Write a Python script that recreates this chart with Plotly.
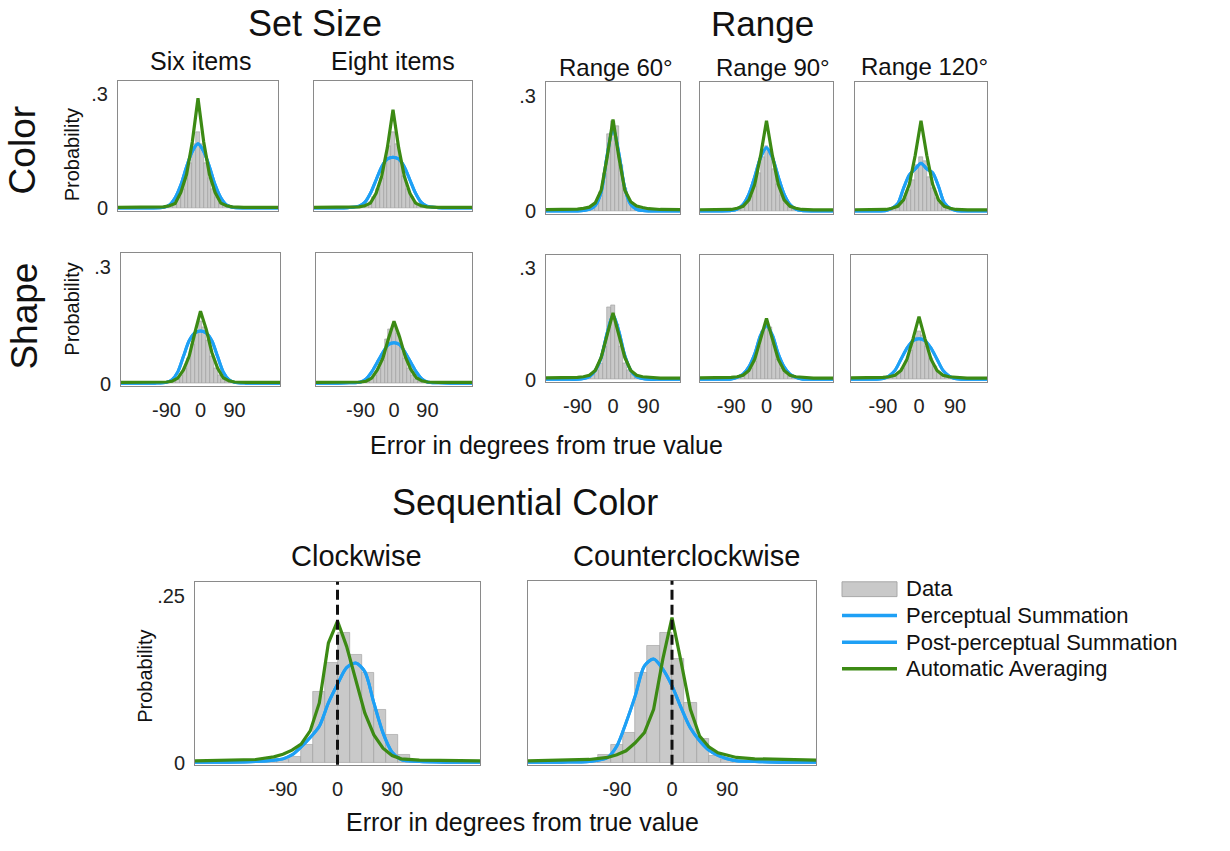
import plotly.graph_objects as go

W, H = 1230, 851
FONT = "Liberation Sans, Arial, sans-serif"
BLUE = "#1EA0F5"
GREEN = "#3C8A14"
BAR_FILL = "#C9C9C9"
BAR_LINE = "#9C9C9C"

# ---------------- shared x grids ----------------
X_TOP = [-210, -150, -120, -90, -75, -60, -45, -30, -15, 0, 15, 30, 45, 60, 75, 90, 120, 150, 210]
HIST_X_TOP = [-90, -80, -70, -60, -50, -40, -30, -20, -10, 0, 10, 20, 30, 40, 50, 60, 70, 80, 90]
X_BOT = [-235, -180, -135, -105, -90, -75, -60, -45, -30, -15, 0, 15, 30, 45, 60, 75, 90, 105, 135, 180, 235]
HIST_X_BOT = [-130, -110, -90, -70, -50, -30, -10, 10, 30, 50, 70, 90, 110, 130]
X_TICKS = [-90, 0, 90]
X_TICKTEXT = ["-90", "0", "90"]

# ---------------- Color row ----------------
COLOR_SIX_HIST = [0.002, 0.004, 0.008, 0.015, 0.03, 0.05, 0.08, 0.12, 0.17, 0.20, 0.17, 0.12, 0.08, 0.05, 0.03, 0.015, 0.008, 0.004, 0.002]
COLOR_SIX_PERC = [0.001, 0.001, 0.001, 0.003, 0.009, 0.028, 0.062, 0.11, 0.15, 0.17, 0.15, 0.11, 0.062, 0.028, 0.009, 0.003, 0.001, 0.001, 0.001]
COLOR_SIX_AVG = [0.003, 0.003, 0.003, 0.004, 0.007, 0.013, 0.042, 0.09, 0.175, 0.29, 0.175, 0.09, 0.042, 0.014, 0.007, 0.004, 0.003, 0.003, 0.003]

COLOR_EIGHT_HIST = [0.003, 0.005, 0.009, 0.016, 0.03, 0.05, 0.08, 0.12, 0.165, 0.20, 0.17, 0.125, 0.085, 0.05, 0.03, 0.016, 0.009, 0.005, 0.003]
COLOR_EIGHT_PERC = [0.001, 0.001, 0.002, 0.006, 0.016, 0.04, 0.075, 0.11, 0.13, 0.135, 0.13, 0.11, 0.075, 0.04, 0.016, 0.006, 0.002, 0.001, 0.001]
COLOR_EIGHT_AVG = [0.003, 0.003, 0.003, 0.004, 0.007, 0.014, 0.04, 0.085, 0.16, 0.26, 0.16, 0.085, 0.04, 0.014, 0.007, 0.004, 0.003, 0.003, 0.003]

COLOR_R60_HIST = [0.002, 0.003, 0.005, 0.008, 0.013, 0.025, 0.05, 0.10, 0.20, 0.235, 0.22, 0.12, 0.06, 0.03, 0.015, 0.008, 0.005, 0.003, 0.002]
COLOR_R60_PERC = [0.001, 0.001, 0.001, 0.001, 0.002, 0.005, 0.015, 0.05, 0.145, 0.215, 0.15, 0.06, 0.018, 0.005, 0.002, 0.001, 0.001, 0.001, 0.001]
COLOR_R60_AVG = [0.004, 0.004, 0.004, 0.006, 0.008, 0.011, 0.022, 0.055, 0.14, 0.238, 0.14, 0.055, 0.025, 0.014, 0.01, 0.007, 0.005, 0.004, 0.004]

COLOR_R90_HIST = [0.002, 0.004, 0.007, 0.012, 0.022, 0.04, 0.065, 0.10, 0.14, 0.17, 0.15, 0.11, 0.07, 0.042, 0.022, 0.012, 0.007, 0.004, 0.002]
COLOR_R90_PERC = [0.001, 0.001, 0.001, 0.002, 0.006, 0.018, 0.045, 0.09, 0.14, 0.165, 0.14, 0.09, 0.045, 0.018, 0.006, 0.002, 0.001, 0.001, 0.001]
COLOR_R90_AVG = [0.004, 0.004, 0.004, 0.005, 0.008, 0.013, 0.03, 0.07, 0.145, 0.235, 0.145, 0.07, 0.03, 0.013, 0.008, 0.005, 0.004, 0.004, 0.004]

COLOR_R120_HIST = [0.003, 0.005, 0.008, 0.013, 0.022, 0.035, 0.055, 0.08, 0.12, 0.14, 0.13, 0.09, 0.06, 0.035, 0.022, 0.013, 0.008, 0.005, 0.003]
COLOR_R120_PERC = [0.001, 0.001, 0.001, 0.002, 0.008, 0.02, 0.06, 0.095, 0.11, 0.125, 0.11, 0.10, 0.065, 0.022, 0.008, 0.002, 0.001, 0.001, 0.001]
COLOR_R120_AVG = [0.004, 0.004, 0.004, 0.005, 0.008, 0.013, 0.03, 0.07, 0.145, 0.235, 0.145, 0.07, 0.03, 0.013, 0.008, 0.005, 0.004, 0.004, 0.004]

# ---------------- Shape row ----------------
SHAPE_SIX_HIST = [0.002, 0.003, 0.006, 0.012, 0.022, 0.04, 0.065, 0.10, 0.135, 0.16, 0.145, 0.11, 0.07, 0.04, 0.022, 0.012, 0.006, 0.003, 0.002]
SHAPE_SIX_PERC = [0.001, 0.001, 0.001, 0.003, 0.01, 0.03, 0.07, 0.11, 0.13, 0.135, 0.13, 0.11, 0.07, 0.03, 0.01, 0.003, 0.001, 0.001, 0.001]
SHAPE_SIX_AVG = [0.003, 0.003, 0.003, 0.004, 0.006, 0.014, 0.035, 0.07, 0.13, 0.186, 0.14, 0.08, 0.04, 0.015, 0.007, 0.004, 0.003, 0.003, 0.003]

SHAPE_EIGHT_HIST = [0.002, 0.004, 0.007, 0.013, 0.022, 0.038, 0.06, 0.115, 0.14, 0.15, 0.13, 0.095, 0.065, 0.04, 0.022, 0.012, 0.006, 0.003, 0.002]
SHAPE_EIGHT_PERC = [0.001, 0.001, 0.002, 0.004, 0.012, 0.03, 0.055, 0.08, 0.10, 0.105, 0.10, 0.08, 0.055, 0.03, 0.012, 0.004, 0.002, 0.001, 0.001]
SHAPE_EIGHT_AVG = [0.003, 0.003, 0.003, 0.004, 0.006, 0.014, 0.035, 0.065, 0.115, 0.16, 0.12, 0.07, 0.037, 0.015, 0.007, 0.004, 0.003, 0.003, 0.003]

SHAPE_R60_HIST = [0.002, 0.003, 0.005, 0.008, 0.014, 0.025, 0.045, 0.09, 0.195, 0.20, 0.15, 0.09, 0.045, 0.025, 0.014, 0.008, 0.005, 0.003, 0.002]
SHAPE_R60_PERC = [0.001, 0.001, 0.001, 0.001, 0.003, 0.008, 0.025, 0.06, 0.125, 0.175, 0.13, 0.065, 0.025, 0.008, 0.003, 0.001, 0.001, 0.001, 0.001]
SHAPE_R60_AVG = [0.004, 0.004, 0.004, 0.006, 0.008, 0.012, 0.025, 0.06, 0.12, 0.18, 0.12, 0.06, 0.025, 0.012, 0.008, 0.006, 0.004, 0.004, 0.004]

SHAPE_R90_HIST = [0.002, 0.003, 0.006, 0.01, 0.018, 0.03, 0.05, 0.09, 0.13, 0.155, 0.14, 0.095, 0.055, 0.03, 0.018, 0.01, 0.006, 0.003, 0.002]
SHAPE_R90_PERC = [0.001, 0.001, 0.001, 0.002, 0.006, 0.015, 0.035, 0.07, 0.12, 0.145, 0.12, 0.07, 0.035, 0.015, 0.006, 0.002, 0.001, 0.001, 0.001]
SHAPE_R90_AVG = [0.004, 0.004, 0.004, 0.006, 0.008, 0.012, 0.025, 0.055, 0.11, 0.165, 0.11, 0.055, 0.025, 0.012, 0.008, 0.006, 0.004, 0.004, 0.004]

SHAPE_R120_HIST = [0.002, 0.004, 0.007, 0.012, 0.02, 0.032, 0.05, 0.08, 0.115, 0.13, 0.12, 0.09, 0.058, 0.035, 0.02, 0.012, 0.007, 0.004, 0.002]
SHAPE_R120_PERC = [0.001, 0.001, 0.001, 0.003, 0.01, 0.025, 0.055, 0.085, 0.105, 0.11, 0.105, 0.085, 0.055, 0.025, 0.01, 0.003, 0.001, 0.001, 0.001]
SHAPE_R120_AVG = [0.004, 0.004, 0.004, 0.006, 0.008, 0.012, 0.025, 0.055, 0.11, 0.17, 0.11, 0.055, 0.025, 0.012, 0.008, 0.006, 0.004, 0.004, 0.004]

# ---------------- Sequential Color ----------------
CW_HIST = [0.002, 0.003, 0.005, 0.009, 0.027, 0.106, 0.15, 0.195, 0.162, 0.135, 0.08, 0.042, 0.012, 0.004]
CW_PERC = [0.001, 0.001, 0.002, 0.004, 0.006, 0.012, 0.024, 0.038, 0.055, 0.09, 0.118, 0.143, 0.15, 0.137, 0.09, 0.045, 0.016, 0.005, 0.002, 0.001, 0.001]
CW_AVG = [0.003, 0.004, 0.005, 0.009, 0.013, 0.019, 0.028, 0.048, 0.09, 0.18, 0.213, 0.175, 0.125, 0.075, 0.042, 0.022, 0.011, 0.006, 0.004, 0.004, 0.003]

CCW_HIST = [0.004, 0.012, 0.027, 0.045, 0.135, 0.175, 0.195, 0.155, 0.09, 0.036, 0.01, 0.005, 0.003, 0.002]
CCW_PERC = [0.001, 0.001, 0.002, 0.008, 0.025, 0.06, 0.10, 0.145, 0.155, 0.14, 0.115, 0.082, 0.052, 0.033, 0.019, 0.011, 0.006, 0.003, 0.002, 0.001, 0.001]
CCW_AVG = [0.003, 0.004, 0.005, 0.008, 0.012, 0.018, 0.03, 0.045, 0.08, 0.155, 0.217, 0.15, 0.08, 0.04, 0.024, 0.015, 0.011, 0.008, 0.006, 0.005, 0.004]

SERIES_NAMES = ["Data", "Perceptual Summation", "Post-perceptual Summation", "Automatic Averaging"]

R_SET, R_RNG, R_BOT = [-210, 210], [-170, 170], [-235, 235]
Y_TOP, Y_BOT = [-0.006, 0.335], [-0.003, 0.272]
PANELS = [
    (HIST_X_TOP, COLOR_SIX_HIST, X_TOP, COLOR_SIX_PERC, COLOR_SIX_AVG, 10, (118, 278, 82, 213), R_SET, Y_TOP, True, False),
    (HIST_X_TOP, COLOR_EIGHT_HIST, X_TOP, COLOR_EIGHT_PERC, COLOR_EIGHT_AVG, 10, (314, 472, 82, 213), R_SET, Y_TOP, False, False),
    (HIST_X_TOP, COLOR_R60_HIST, X_TOP, COLOR_R60_PERC, COLOR_R60_AVG, 10, (546, 680, 83, 216), R_RNG, Y_TOP, True, False),
    (HIST_X_TOP, COLOR_R90_HIST, X_TOP, COLOR_R90_PERC, COLOR_R90_AVG, 10, (700, 833, 83, 216), R_RNG, Y_TOP, False, False),
    (HIST_X_TOP, COLOR_R120_HIST, X_TOP, COLOR_R120_PERC, COLOR_R120_AVG, 10, (855, 987, 83, 216), R_RNG, Y_TOP, False, False),
    (HIST_X_TOP, SHAPE_SIX_HIST, X_TOP, SHAPE_SIX_PERC, SHAPE_SIX_AVG, 10, (121, 280, 256, 390), R_SET, Y_TOP, True, True),
    (HIST_X_TOP, SHAPE_EIGHT_HIST, X_TOP, SHAPE_EIGHT_PERC, SHAPE_EIGHT_AVG, 10, (316, 472, 256, 390), R_SET, Y_TOP, False, True),
    (HIST_X_TOP, SHAPE_R60_HIST, X_TOP, SHAPE_R60_PERC, SHAPE_R60_AVG, 10, (546, 680, 258, 386), R_RNG, Y_TOP, True, True),
    (HIST_X_TOP, SHAPE_R90_HIST, X_TOP, SHAPE_R90_PERC, SHAPE_R90_AVG, 10, (700, 833, 258, 386), R_RNG, Y_TOP, False, True),
    (HIST_X_TOP, SHAPE_R120_HIST, X_TOP, SHAPE_R120_PERC, SHAPE_R120_AVG, 10, (851, 987, 258, 386), R_RNG, Y_TOP, False, True),
    (HIST_X_BOT, CW_HIST, X_BOT, CW_PERC, CW_AVG, 20, (195, 480, 588, 773), R_BOT, Y_BOT, True, True),
    (HIST_X_BOT, CCW_HIST, X_BOT, CCW_PERC, CCW_AVG, 20, (528, 816, 587, 773), R_BOT, Y_BOT, False, True),
]

fig = go.Figure()
layout_axes = {}
for i, (hx, hy, cx, perc, avg, bw, box, xr, yr, show_y, show_x) in enumerate(PANELS):
    n = i + 1
    xa, ya = ("x" if n == 1 else f"x{n}"), ("y" if n == 1 else f"y{n}")
    fig.add_trace(go.Bar(x=hx, y=hy, width=bw, marker=dict(color=BAR_FILL, line=dict(color=BAR_LINE, width=0.6)),
                         name=SERIES_NAMES[0], showlegend=False, xaxis=xa, yaxis=ya))
    fig.add_trace(go.Scatter(x=cx, y=perc, mode="lines", line=dict(color=BLUE, width=3, shape="spline", smoothing=0.8),
                             name=SERIES_NAMES[1], showlegend=False, xaxis=xa, yaxis=ya))
    fig.add_trace(go.Scatter(x=cx, y=perc, mode="lines", line=dict(color=BLUE, width=3, shape="spline", smoothing=0.8),
                             name=SERIES_NAMES[2], showlegend=False, xaxis=xa, yaxis=ya))
    fig.add_trace(go.Scatter(x=cx, y=avg, mode="lines", line=dict(color=GREEN, width=3.2),
                             name=SERIES_NAMES[3], showlegend=False, xaxis=xa, yaxis=ya))
    x0, x1, y0, y1 = box
    is_bot = n > 10
    layout_axes["xaxis" if n == 1 else f"xaxis{n}"] = dict(
        domain=[x0 / W, x1 / W], anchor=ya, range=xr, showgrid=False, zeroline=False,
        showline=True, mirror=True, linecolor="#8A8A8A", linewidth=1, ticks="",
        tickvals=X_TICKS if show_x else [], ticktext=X_TICKTEXT if show_x else [],
        showticklabels=show_x, tickfont=dict(size=20, color="#222"), ticklabelstandoff=6)
    layout_axes["yaxis" if n == 1 else f"yaxis{n}"] = dict(
        domain=[1 - y1 / H, 1 - y0 / H], anchor=xa, range=yr, showgrid=False, zeroline=False,
        showline=True, mirror=True, linecolor="#8A8A8A", linewidth=1, ticks="",
        tickvals=([0, 0.25] if is_bot else [0, 0.3]) if show_y else [],
        ticktext=(["0", ".25"] if is_bot else ["0", ".3"]) if show_y else [],
        showticklabels=show_y, tickfont=dict(size=20, color="#222"), ticklabelstandoff=5)

def px_x(x):
    return x / W

def px_y(y):
    return 1 - y / H

# dashed zero lines in sequential panels
shapes = []
for n in (11, 12):
    shapes.append(dict(type="line", xref=f"x{n}", yref=f"y{n} domain", x0=0, x1=0, y0=0, y1=1,
                       line=dict(color="#111", width=3, dash="10px,5px"), layer="above"))

# legend swatches (drawn by hand to match the compact layout of the original)
LEGEND_ROWS_Y = [595, 622, 649, 676]
shapes.append(dict(type="rect", xref="paper", yref="paper", x0=px_x(842), x1=px_x(897),
                   y0=px_y(603), y1=px_y(588), fillcolor=BAR_FILL, line=dict(color="#A8A8A8", width=1)))
for yy, col in zip(LEGEND_ROWS_Y[1:], [BLUE, BLUE, GREEN]):
    shapes.append(dict(type="line", xref="paper", yref="paper", x0=px_x(842), x1=px_x(897),
                       y0=px_y(yy), y1=px_y(yy), line=dict(color=col, width=3.5)))

def ann(text, x, y, size, angle=0, xanchor="center"):
    return dict(text=text, x=x / W, y=1 - y / H, xref="paper", yref="paper", showarrow=False,
                font=dict(size=size, color="#111", family=FONT), textangle=angle,
                xanchor=xanchor, yanchor="middle", borderpad=0)

annotations = [
    ann("Set Size", 315, 24, 36), ann("Range", 762, 24, 35), ann("Sequential Color", 525, 508, 36),
    ann("Six items", 200, 62, 25), ann("Eight items", 393, 62, 25),
    ann("Range 60°", 616, 68, 24), ann("Range 90°", 773, 68, 24), ann("Range 120°", 924, 67, 24),
    ann("Clockwise", 356, 562, 29), ann("Counterclockwise", 686, 562, 29),
    ann("Color", 22, 152, 37, -90), ann("Shape", 25, 320, 37, -90),
    ann("Probability", 72, 157, 20, -90), ann("Probability", 72, 313, 20, -90), ann("Probability", 145, 684, 20, -90),
    ann("Error in degrees from true value", 546, 450, 25), ann("Error in degrees from true value", 522, 831, 25),
]
for name, yy in zip(SERIES_NAMES, LEGEND_ROWS_Y):
    annotations.append(ann(name, 905, yy, 22, xanchor="left"))

fig.update_layout(
    width=W, height=H, margin=dict(l=0, r=0, t=0, b=0),
    paper_bgcolor="white", plot_bgcolor="white",
    font=dict(family=FONT, color="#111"),
    barmode="overlay", bargap=0,
    showlegend=False,
    shapes=shapes, annotations=annotations,
    **layout_axes,
)

fig.write_html("out.html", config={"displayModeBar": False},
               post_script="document.body.style.margin='0px';document.body.style.overflow='hidden';")
